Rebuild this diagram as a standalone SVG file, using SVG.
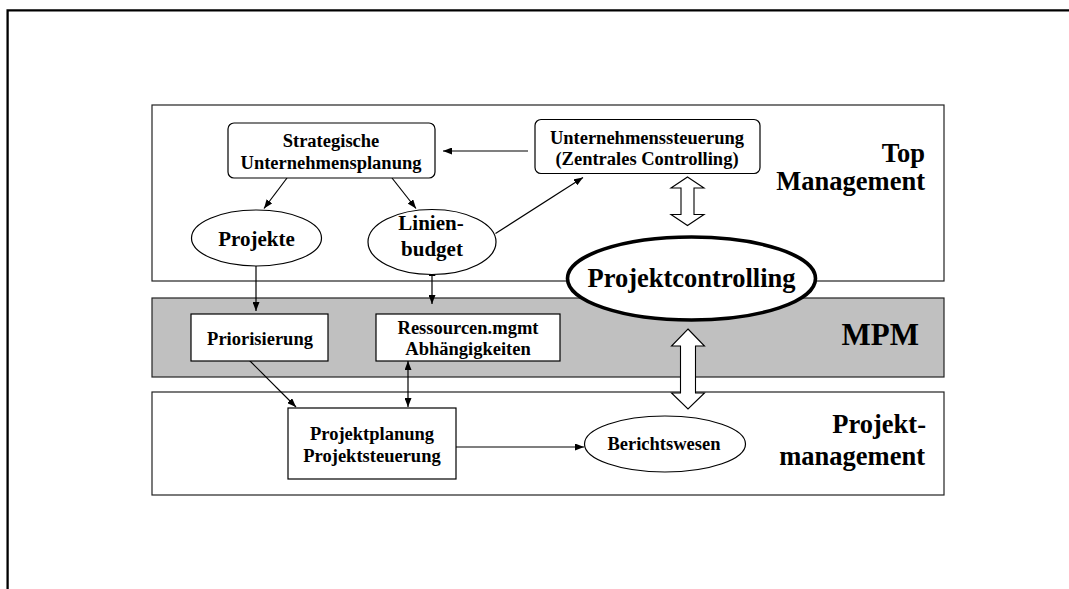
<svg xmlns="http://www.w3.org/2000/svg" width="1069" height="589" viewBox="0 0 1069 589">
  <defs>
    <marker id="arr" markerUnits="userSpaceOnUse" markerWidth="9" markerHeight="7" refX="9" refY="3.5" orient="auto-start-reverse">
      <path d="M0,0 L9,3.5 L0,7 z" fill="#000"/>
    </marker>
    <style>
      .panel { fill: #fff; stroke: #222; stroke-width: 1.2; }
      .panel.grey { fill: #c0c0c0; }
      .box { fill: #fff; stroke: #000; stroke-width: 1.2; }
      .conn { stroke: #000; stroke-width: 1.2; fill: none; }
      .hollow { fill: #fff; stroke: #000; stroke-width: 1.1; stroke-linejoin: miter; }
      text { font-family: "Liberation Serif", "Times New Roman", serif; font-weight: bold; fill: #000; }
      .s { font-size: 18.5px; text-anchor: middle; }
      .m { font-size: 21px; text-anchor: middle; }
      .lane { font-size: 26.5px; text-anchor: end; }
    </style>
  </defs>

  <rect width="1069" height="589" fill="#fff"/>

  <!-- outer frame -->
  <path d="M7.6,589 V10.3 H1069" fill="none" stroke="#000" stroke-width="2.3"/>

  <!-- level bands -->
  <g id="band-top">
    <rect class="panel" x="152" y="105" width="792" height="176"/>
    <text class="lane" x="925" y="162">Top</text>
    <text class="lane" x="925" y="190">Management</text>
  </g>
  <g id="band-mpm">
    <rect class="panel grey" x="152" y="298" width="792" height="79"/>
    <text class="lane" x="919" y="345" style="font-size:31px">MPM</text>
  </g>
  <g id="band-pm">
    <rect class="panel" x="152" y="392" width="792" height="103"/>
    <text class="lane" x="926" y="433">Projekt-</text>
    <text class="lane" x="925" y="465">management</text>
  </g>

  <!-- connectors -->
  <g id="connectors">
    <line class="conn" x1="528" y1="151" x2="443" y2="151" marker-end="url(#arr)"/>
    <line class="conn" x1="287" y1="178" x2="264" y2="208.5" marker-end="url(#arr)"/>
    <line class="conn" x1="392" y1="178" x2="416" y2="208.5" marker-end="url(#arr)"/>
    <line class="conn" x1="495.5" y1="233.5" x2="583" y2="177.5" marker-end="url(#arr)"/>
    <line class="conn" x1="256" y1="266" x2="256" y2="311" marker-end="url(#arr)"/>
    <line class="conn" x1="432" y1="267" x2="432" y2="304" marker-start="url(#arr)" marker-end="url(#arr)"/>
    <line class="conn" x1="248" y1="359" x2="296" y2="407" marker-end="url(#arr)"/>
    <line class="conn" x1="408" y1="361" x2="408" y2="407" marker-start="url(#arr)" marker-end="url(#arr)"/>
    <line class="conn" x1="456" y1="447" x2="584" y2="447" marker-end="url(#arr)"/>
    <!-- block double arrows -->
    <polygon class="hollow" points="687.5,177 704,188 694,188 694,214.5 704,214.5 687.5,225.5 671,214.5 681,214.5 681,188 671,188"/>
    <polygon class="hollow" points="688,329 704.5,346 695.5,346 695.5,393 704.5,393 688,409 671.5,393 680.5,393 680.5,346 671.5,346"/>
  </g>

  <!-- nodes -->
  <g id="strategische-planung">
    <rect class="box" x="228" y="123" width="207" height="55" rx="6"/>
    <text class="s" x="331" y="146.5">Strategische</text>
    <text class="s" x="331" y="168.5">Unternehmensplanung</text>
  </g>
  <g id="unternehmenssteuerung">
    <rect class="box" x="535" y="119.5" width="225" height="54" rx="6"/>
    <text class="s" x="647" y="143.5">Unternehmenssteuerung</text>
    <text class="s" x="647" y="165">(Zentrales Controlling)</text>
  </g>
  <g id="projekte">
    <ellipse class="box" cx="256.5" cy="238" rx="65" ry="28"/>
    <text class="m" x="256.5" y="245.5">Projekte</text>
  </g>
  <g id="linienbudget">
    <ellipse class="box" cx="432" cy="242" rx="64" ry="32.5"/>
    <text class="m" x="431" y="230">Linien-</text>
    <text class="m" x="432" y="256">budget</text>
  </g>
  <g id="projektcontrolling">
    <ellipse cx="691.5" cy="278.5" rx="124" ry="41.5" fill="#fff" stroke="#000" stroke-width="3.6"/>
    <text x="691.5" y="287" style="font-size:26.5px;text-anchor:middle">Projektcontrolling</text>
  </g>
  <g id="priorisierung">
    <rect class="box" x="191" y="314" width="137" height="47"/>
    <text class="s" x="260" y="345">Priorisierung</text>
  </g>
  <g id="ressourcen">
    <rect class="box" x="376" y="314" width="184" height="47"/>
    <text class="s" x="468" y="333.5">Ressourcen.mgmt</text>
    <text class="s" x="468" y="355">Abhängigkeiten</text>
  </g>
  <g id="projektplanung">
    <rect class="box" x="288" y="408" width="168" height="71"/>
    <text class="s" x="372" y="440">Projektplanung</text>
    <text class="s" x="372" y="461.5">Projektsteuerung</text>
  </g>
  <g id="berichtswesen">
    <ellipse class="box" cx="665" cy="444" rx="80.5" ry="28"/>
    <text class="s" x="664" y="450">Berichtswesen</text>
  </g>
</svg>
